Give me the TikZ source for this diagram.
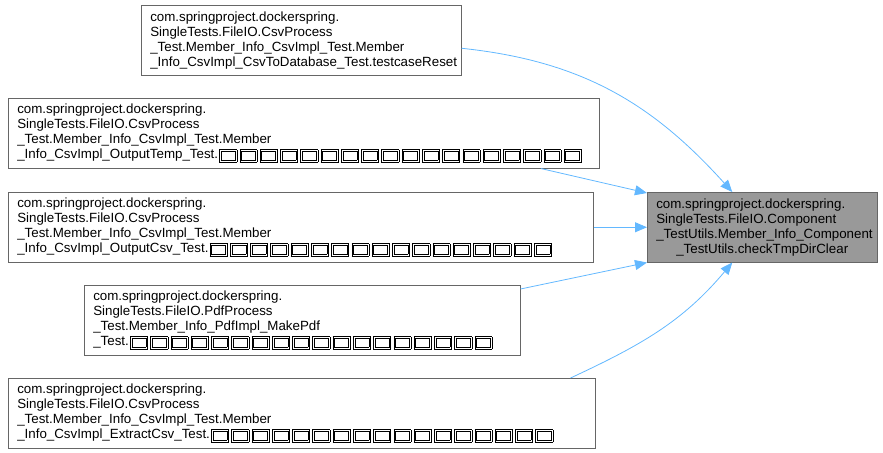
\documentclass[tikz,border=0pt]{standalone}
\usepackage{fontspec}
\setmainfont{Liberation Sans}
\usetikzlibrary{arrows.meta}
\definecolor{edgeblue}{HTML}{63B8FF}
\definecolor{framegray}{HTML}{666666}
\definecolor{focusgray}{HTML}{999999}
\setlength{\fboxsep}{0.7pt}
\setlength{\fboxrule}{0.5pt}
% box drawn for a glyph the font does not have
\newcommand{\hexbox}{\kern0.9pt\fbox{\fbox{\rule[-0.3pt]{0pt}{5pt}\kern8.6pt}}\kern0.9pt}
\newcommand{\hexrun}[1]{\foreach \k in {1,...,#1}{\hexbox}}

\begin{document}
\begin{tikzpicture}[x=0.75pt, y=-0.75pt,
  testbox/.style={draw=framegray, rectangle, anchor=north west, fill=white,
    text width=#1, minimum height=52.5pt, inner xsep=6.75pt, inner ysep=0pt,
    align=left, font=\fontsize{10pt}{11.25pt}\selectfont},
  link/.style={draw=edgeblue, line width=0.6pt, -{Triangle[length=9pt, width=7.5pt]}}]
\useasboundingbox (0,0) rectangle (883,453);

\node[testbox=226.5pt] (reset) at (141,5) {com.springproject.dockerspring.\\SingleTests.FileIO.CsvProcess\\\_Test.Member\_Info\_CsvImpl\_Test.Member\\\_Info\_CsvImpl\_CsvToDatabase\_Test.testcaseReset};
\node[testbox=429.75pt] (outtemp) at (8,98) {com.springproject.dockerspring.\\SingleTests.FileIO.CsvProcess\\\_Test.Member\_Info\_CsvImpl\_Test.Member\\\_Info\_CsvImpl\_OutputTemp\_Test.\hexrun{18}};
\node[testbox=425.25pt] (outcsv) at (8,192) {com.springproject.dockerspring.\\SingleTests.FileIO.CsvProcess\\\_Test.Member\_Info\_CsvImpl\_Test.Member\\\_Info\_CsvImpl\_OutputCsv\_Test.\hexrun{17}};
\node[testbox=313.5pt] (makepdf) at (84,285) {com.springproject.dockerspring.\\SingleTests.FileIO.PdfProcess\\\_Test.Member\_Info\_PdfImpl\_MakePdf\\\_Test.\hexrun{18}};
\node[testbox=426.75pt] (extract) at (8,378) {com.springproject.dockerspring.\\SingleTests.FileIO.CsvProcess\\\_Test.Member\_Info\_CsvImpl\_Test.Member\\\_Info\_CsvImpl\_ExtractCsv\_Test.\hexrun{17}};
\node[testbox=159pt, fill=focusgray] (clear) at (647,192) {com.springproject.dockerspring.\\SingleTests.FileIO.Component\\\_TestUtils.Member\_Info\_Component\\\makebox[\hsize]{\_TestUtils.checkTmpDirClear}};

\draw[link] ([yshift=-6pt]reset.east) to[out=-6, in=132] ([xshift=-22.5pt]clear.north);
\draw[link] ([xshift=-44pt]outtemp.south east) -- ([yshift=-0.75pt]clear.north west);
\draw[link] (outcsv.east) -- (outcsv.east -| clear.west);
\draw[link] ([yshift=-3pt]makepdf.north east) -- (clear.south west);
\draw[link] ([xshift=-18.75pt]extract.north east) to[out=25, in=-130] ([xshift=-22.5pt]clear.south);

\end{tikzpicture}
\end{document}
